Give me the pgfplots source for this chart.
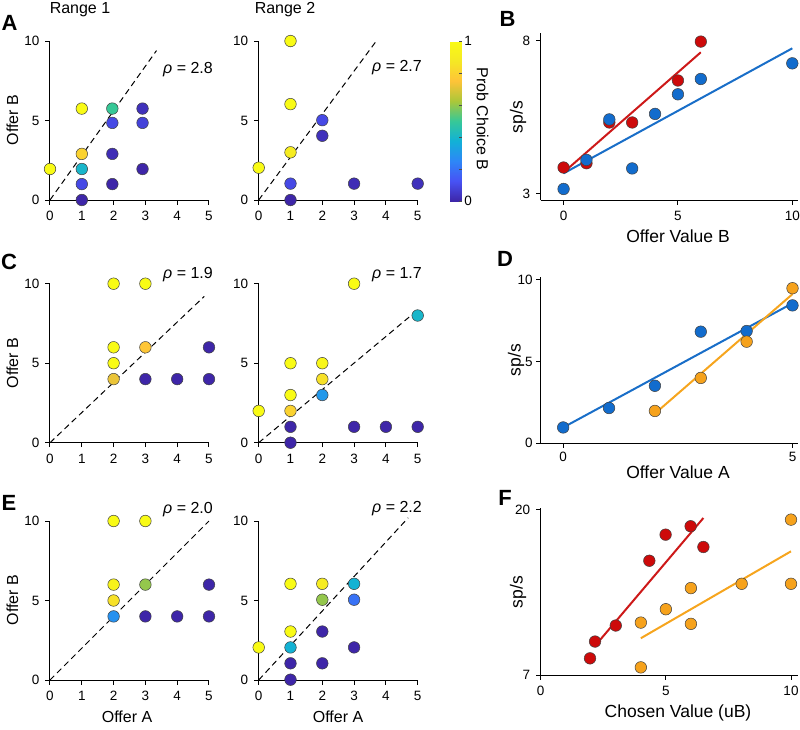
\documentclass[border=0pt]{standalone}
\usepackage{pgfplots}
\pgfplotsset{compat=1.18}
\usepackage{fontspec}
\setmainfont{Liberation Sans}
\definecolor{mblue}{RGB}{18,108,205}
\definecolor{mred}{RGB}{205,10,10}
\definecolor{morange}{RGB}{246,162,28}
\definecolor{lblue}{RGB}{25,110,200}
\definecolor{lred}{RGB}{205,25,25}
\definecolor{lorange}{RGB}{246,165,30}
\pgfplotsset{
  colormap={parula}{rgb=(0.2422,0.1504,0.6603) rgb=(0.2810,0.3228,0.9579) rgb=(0.1786,0.5289,0.9682) rgb=(0.0689,0.6948,0.8394) rgb=(0.2161,0.7843,0.5923) rgb=(0.6720,0.7793,0.2227) rgb=(0.9970,0.7659,0.2199) rgb=(0.9598,0.9106,0.1429) rgb=(0.9769,0.9839,0.0805)},
  base/.style={scale only axis, axis lines=left, axis line style={-, line width=1pt},
    tick align=outside, tick style={black, line width=1pt}, major tick length=4.5pt,
    ticklabel style={font=\fontsize{13.5}{13.5}\selectfont},
    xticklabel style={yshift=-3.5pt}, yticklabel style={xshift=-2.5pt},
    /pgf/number format/assume math mode=true, clip=false},
  choice/.style={base, anchor=south west, width=159pt, height=159pt, xmin=0,xmax=5,ymin=0,ymax=10,
    xtick={0,...,5}, ytick={0,5,10}, point meta min=0, point meta max=1, colormap name=parula},
  dots/.style={scatter, only marks, mark=*, mark size=5.8pt, scatter src=explicit,
    scatter/use mapped color={draw=black!75, fill=mapped color}, line width=0.5pt},
  diag/.style={black, dash pattern=on 6pt off 4pt, line width=1pt},
  neur/.style={base, anchor=south west, width=257.3pt, height=166.7pt},
  pts/.style={only marks, mark=*, mark size=5.8pt, mark options={draw=black!75, fill=#1, line width=0.5pt}},
  fit/.style={#1, line width=2pt},
}
\newcommand{\lab}{\fontsize{16}{16}\selectfont}
\newcommand{\labr}{\fontsize{17.5}{17.5}\selectfont}
\newcommand{\letr}{\fontsize{22}{22}\selectfont\bfseries}
\begin{document}
\begin{tikzpicture}
\useasboundingbox (0,0) rectangle (800pt,-729pt);
% ---------- A left
\begin{axis}[choice, at={(50pt,-200pt)}]
\addplot[diag] coordinates {(0,0) (3.35,9.4)};
\addplot[dots] table[meta=p] {
x y p
0 1.95 1
1 5.75 1
1 2.9 0.8
1 1.95 0.4
1 1.0 0.1
1 0 0
1.96 5.75 0.5
1.96 4.85 0.1
1.96 2.9 0.02
1.96 1.0 0
2.91 5.75 0.03
2.91 4.85 0.08
2.91 1.95 0
};
\end{axis}
% ---------- A right
\begin{axis}[choice, at={(258.7pt,-200pt)},
  colorbar, colorbar style={at={(parent axis.north east)}, anchor=north west, xshift=24pt,
   scale only axis, width=11.5pt, height=160pt, axis line style={draw=none},
   ytick={0,0.2,0.4,0.6,0.8,1}, yticklabels={0,,,,,1}, tick align=inside, ytick pos=right,
   major tick length=3pt, tick style={black!70, line width=0.6pt},
   yticklabel style={font=\fontsize{13.5}{13.5}\selectfont, xshift=-1pt},
   ylabel={Prob Choice B}, ylabel style={rotate=180, font=\fontsize{16}{16}\selectfont, xshift=-2pt, yshift=-2pt}}]
\addplot[diag] coordinates {(0,0) (3.68,9.95)};
\addplot[dots] table[meta=p] {
x y p
0 2.03 1
1 10 1
1 6.03 1
1 3 0.9
1 1.03 0.1
1 0 0
2 5.02 0.1
2 4.04 0.03
3 1.03 0.02
5 1.03 0.03
};
\end{axis}
% ---------- C left
\begin{axis}[choice, at={(50pt,-442.7pt)}]
\addplot[diag] coordinates {(0,0) (4.85,9.2)};
\addplot[dots] table[meta=p] {
x y p
2 10 1
3 10 1
2 6 1
2 5 1
2 4 0.72
3 6 0.76
3 4 0
4 4 0
5 4 0
5 6 0
};
\end{axis}
% ---------- C right
\begin{axis}[choice, at={(258.7pt,-442.7pt)}]
\addplot[diag] coordinates {(0,0) (4.85,8.1)};
\addplot[dots] table[meta=p] {
x y p
0 2 1
1 5 1
1 3 1
1 2 0.8
1 1 0
1 0 0
2 5 0.97
2 4 0.85
2 3 0.3
3 10 1
3 1 0
4 1 0
5 1 0
5 8 0.4
};
\end{axis}
% ---------- E left
\begin{axis}[choice, at={(50pt,-680pt)}]
\addplot[diag] coordinates {(0,0) (5,10)};
\addplot[dots] table[meta=p] {
x y p
2 10 1
3 10 1
2 6 0.95
2 5 0.85
2 4 0.28
3 6 0.6
3 4 0
4 4 0
5 4 0
5 6 0
};
\end{axis}
% ---------- E right
\begin{axis}[choice, at={(258.7pt,-680pt)}]
\addplot[diag] coordinates {(0,0) (4.7,10.2)};
\addplot[dots] table[meta=p] {
x y p
0 2.05 1
1 6.05 1
1 3.05 1
1 2.05 0.38
1 1.05 0
1 0.02 0
2 6.05 0.9
2 5.05 0.6
2 3.05 0
2 1.05 0
3 6.05 0.38
3 5.05 0.2
3 2.05 0
};
\end{axis}
% ---------- B
\begin{axis}[neur, at={(540.7pt,-200pt)}, xmin=-1, xmax=10.25, ymin=2.8, ymax=8.24, xtick={0,5,10}, ytick={3,8}]
\addplot[fit=lred] coordinates {(0,3.70) (6,7.62)};
\addplot[fit=lblue] coordinates {(0,3.67) (10,7.75)};
\addplot[pts=mred] coordinates {(0,3.86) (1,4.0) (2,5.33) (3,5.33) (5,6.7) (6,7.97)};
\addplot[pts=mblue] coordinates {(0,3.16) (1,4.11) (2,5.43) (3,3.83) (4,5.61) (5,6.25) (6,6.75) (10,7.26)};
\end{axis}
% ---------- D
\begin{axis}[neur, at={(540.7pt,-443.3pt)}, xmin=-0.49, xmax=5.12, ymin=0, ymax=10.2, xtick={0,5}, ytick={0,5,10},
  xticklabel style={yshift=3pt}, yticklabel style={xshift=2.5pt}]
\addplot[fit=lblue] coordinates {(0,0.97) (5,8.57)};
\addplot[pts=mblue] coordinates {(0,0.97) (1,2.16) (2,3.52) (3,6.83) (4,6.87) (5,8.44)};
\addplot[fit=lorange] coordinates {(2,1.82) (5,9.13)};
\addplot[pts=morange] coordinates {(2,1.98) (3,4.0) (4,6.22) (5,9.49)};
\end{axis}
% ---------- F
\begin{axis}[neur, at={(540.7pt,-675pt)}, xmin=0, xmax=10.28, ymin=7, ymax=20.1, xtick={0,5,10}, ytick={7,20}]
\addplot[fit=lred] coordinates {(2.2,9.36) (6.5,19.34)};
\addplot[pts=mred] coordinates {(1.97,8.31) (2.17,9.63) (3.0,10.89) (4.34,15.98) (4.99,18.03) (5.99,18.69) (6.5,17.06)};
\addplot[fit=lorange] coordinates {(4,9.89) (10,16.72)};
\addplot[pts=morange] coordinates {(4,11.12) (4,7.6) (5,12.17) (6,13.83) (6,11.02) (8.03,14.17) (10,14.17) (10,19.21)};
\end{axis}
% ---------- texts
\node[font=\lab] at (80pt,-10pt) {Range 1};
\node[font=\lab] at (285pt,-10pt) {Range 2};
\node[font=\lab] at (188pt,-70pt) {{\itshape ρ} = 2.8};
\node[font=\lab] at (397pt,-68pt) {{\itshape ρ} = 2.7};
\node[font=\lab] at (188pt,-275pt) {{\itshape ρ} = 1.9};
\node[font=\lab] at (397pt,-275pt) {{\itshape ρ} = 1.7};
\node[font=\lab] at (188pt,-510pt) {{\itshape ρ} = 2.0};
\node[font=\lab] at (397pt,-509pt) {{\itshape ρ} = 2.2};
\node[font=\lab, rotate=90] at (12.5pt,-120pt) {Offer B};
\node[font=\lab, rotate=90] at (12.5pt,-363pt) {Offer B};
\node[font=\lab, rotate=90] at (12.5pt,-600pt) {Offer B};
\node[font=\lab] at (127pt,-717pt) {Offer A};
\node[font=\lab] at (338pt,-717pt) {Offer A};
\node[font=\labr, rotate=90] at (518pt,-117pt) {sp/s};
\node[font=\labr, rotate=90] at (516pt,-360pt) {sp/s};
\node[font=\labr, rotate=90] at (518pt,-592pt) {sp/s};
\node[font=\labr] at (678pt,-236.5pt) {Offer Value B};
\node[font=\labr] at (678pt,-472pt) {Offer Value A};
\node[font=\labr] at (678pt,-713pt) {Chosen Value (uB)};
\node[font=\letr] at (9.5pt,-22.5pt) {A};
\node[font=\letr] at (507.5pt,-19pt) {B};
\node[font=\letr] at (9pt,-262pt) {C};
\node[font=\letr] at (505pt,-259pt) {D};
\node[font=\letr] at (9pt,-503pt) {E};
\node[font=\letr] at (505pt,-498pt) {F};
\end{tikzpicture}
\end{document}
